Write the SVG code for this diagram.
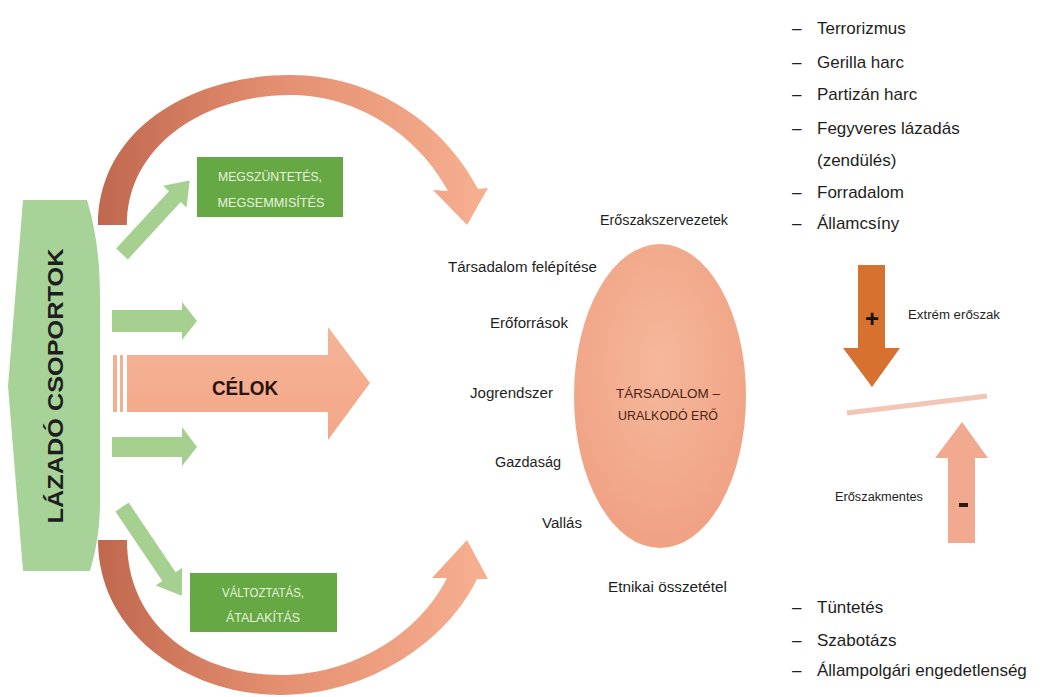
<svg xmlns="http://www.w3.org/2000/svg" width="1048" height="697" viewBox="0 0 1048 697">
<style>
.t{font-family:"Liberation Sans",Arial,sans-serif;fill:#1e1e1e}
.lbl{font-size:14px}
.lst{font-size:17px}
.sm{font-size:12px}
.box{fill:#66a844}
.boxt{font-family:"Liberation Sans",Arial,sans-serif;font-size:13px;fill:#e6f3de;text-anchor:middle}
.ga{fill:#a5d08f}
</style>
<defs>
<linearGradient id="arcg" gradientUnits="userSpaceOnUse" x1="98" y1="0" x2="488" y2="0">
<stop offset="0" stop-color="#c0684e"/>
<stop offset="0.45" stop-color="#e48e70"/>
<stop offset="1" stop-color="#f6b090"/>
</linearGradient>
<radialGradient id="ellg" cx="0.5" cy="0.4" r="0.6">
<stop offset="0" stop-color="#f6b89c"/>
<stop offset="1" stop-color="#f0a283"/>
</radialGradient>
<linearGradient id="celg" x1="0" y1="0" x2="0" y2="1">
<stop offset="0" stop-color="#f5b497"/>
<stop offset="1" stop-color="#f3a787"/>
</linearGradient>
</defs>
<rect width="1048" height="697" fill="#ffffff"/>

<g id="connectors">
<path id="arc-top" fill="url(#arcg)" d="M98,225 C98,130 190,75 290,75 C375,75 445,125 478,189 L488,188 L467,225 L433,190 L448,191 C420,138 360,95 290,95 C205,95 127,145 127,225 Z"/>
<path id="arc-bottom" fill="url(#arcg)" d="M98,540 C98,635 190,695 280,695 C370,695 448,640 477,579 L488,579 L467,540 L432,578 L447,578 C420,632 355,675 280,675 C200,675 127,628 127,540 Z"/>
<polygon id="arrow-diag-up" class="ga" transform="translate(122,254) rotate(-47.4)" points="0,-8 78,-8 78,-16 100,0 78,16 78,8 0,8"/>
<polygon id="arrow-h1" class="ga" points="112,310 182,310 182,302 197,321 182,340 182,332 112,332"/>
<polygon id="arrow-h2" class="ga" points="112,437 182,437 182,427 197,447 182,466 182,457 112,457"/>
<polygon id="arrow-diag-down" class="ga" transform="translate(122,507) rotate(56)" points="0,-8 84,-8 84,-16 107,0 84,16 84,8 0,8"/>
</g>

<g id="lazado">
<path fill="#a8d398" d="M23,200 L87,200 C96,230 100,260 100,300 L100,500 C100,530 96,550 90,571 L23,571 L8,386 Z"/>
<text class="t" transform="translate(63,386) rotate(-90)" text-anchor="middle" font-size="22" font-weight="bold" textLength="275" lengthAdjust="spacingAndGlyphs">LÁZADÓ CSOPORTOK</text>
</g>

<g id="celok">
<rect x="113" y="355" width="4" height="57" fill="#f4ae90"/>
<rect x="120" y="355" width="3" height="57" fill="#f4ae90"/>
<polygon fill="url(#celg)" points="127,355 328,355 328,327 370,383 328,440 328,412 127,412"/>
<text class="t" x="245" y="395" text-anchor="middle" font-size="21" font-weight="bold" style="fill:#2a1410" textLength="66" lengthAdjust="spacingAndGlyphs">CÉLOK</text>
</g>

<g id="box-megszuntetes">
<rect class="box" x="197" y="157" width="146" height="60"/>
<text class="boxt" x="270" y="181" textLength="104" lengthAdjust="spacingAndGlyphs">MEGSZÜNTETÉS,</text>
<text class="boxt" x="271" y="207" textLength="107" lengthAdjust="spacingAndGlyphs">MEGSEMMISÍTÉS</text>
</g>

<g id="box-valtoztatas">
<rect class="box" x="190" y="573" width="147" height="59"/>
<text class="boxt" x="263" y="597" textLength="82" lengthAdjust="spacingAndGlyphs">VÁLTOZTATÁS,</text>
<text class="boxt" x="263" y="622" textLength="74" lengthAdjust="spacingAndGlyphs">ÁTALAKÍTÁS</text>
</g>

<g id="tarsadalom">
<ellipse cx="660" cy="396" rx="86" ry="152" fill="url(#ellg)"/>
<text class="t" x="668" y="398" text-anchor="middle" font-size="13" style="fill:#4a2414" textLength="104" lengthAdjust="spacingAndGlyphs">TÁRSADALOM –</text>
<text class="t" x="668" y="420" text-anchor="middle" font-size="13" style="fill:#4a2414" textLength="100" lengthAdjust="spacingAndGlyphs">URALKODÓ ERŐ</text>
</g>

<g id="labels">
<text class="t lbl" x="600" y="225" textLength="128" lengthAdjust="spacingAndGlyphs">Erőszakszervezetek</text>
<text class="t lbl" x="448" y="272" textLength="149" lengthAdjust="spacingAndGlyphs">Társadalom felépítése</text>
<text class="t lbl" x="490" y="328" textLength="78" lengthAdjust="spacingAndGlyphs">Erőforrások</text>
<text class="t lbl" x="470" y="398" textLength="83" lengthAdjust="spacingAndGlyphs">Jogrendszer</text>
<text class="t lbl" x="495" y="467" textLength="66" lengthAdjust="spacingAndGlyphs">Gazdaság</text>
<text class="t lbl" x="542" y="528" textLength="40" lengthAdjust="spacingAndGlyphs">Vallás</text>
<text class="t lbl" x="608" y="592" textLength="119" lengthAdjust="spacingAndGlyphs">Etnikai összetétel</text>
</g>

<g id="list-violent">
<text class="t lst" x="792" y="34">–</text><text class="t lst" x="817" y="34">Terrorizmus</text>
<text class="t lst" x="792" y="68">–</text><text class="t lst" x="817" y="68">Gerilla harc</text>
<text class="t lst" x="792" y="100">–</text><text class="t lst" x="817" y="100">Partizán harc</text>
<text class="t lst" x="792" y="134">–</text><text class="t lst" x="817" y="134">Fegyveres lázadás</text>
<text class="t lst" x="817" y="166">(zendülés)</text>
<text class="t lst" x="792" y="198">–</text><text class="t lst" x="817" y="198">Forradalom</text>
<text class="t lst" x="792" y="229">–</text><text class="t lst" x="817" y="229">Államcsíny</text>
</g>

<g id="extreme">
<polygon fill="#d6712f" points="858,265 885,265 885,348 900,348 872,387 843,348 858,348"/>
<text class="t" x="872" y="327" text-anchor="middle" font-size="24" font-weight="bold" style="fill:#111">+</text>
<text class="t sm" x="908" y="319" textLength="92" lengthAdjust="spacingAndGlyphs">Extrém erőszak</text>
</g>

<line id="balance" x1="847" y1="413" x2="987" y2="396" stroke="#f2c5b6" stroke-width="5"/>

<g id="nonviolent">
<polygon fill="#f1aa90" points="962,422 988,458 975,458 975,543 948,543 948,458 935,458"/>
<rect x="959" y="503" width="9" height="4" fill="#2a1a14"/>
<text class="t sm" x="835" y="501" textLength="88" lengthAdjust="spacingAndGlyphs">Erőszakmentes</text>
</g>

<g id="list-nonviolent">
<text class="t lst" x="792" y="613">–</text><text class="t lst" x="817" y="613">Tüntetés</text>
<text class="t lst" x="792" y="646">–</text><text class="t lst" x="817" y="646">Szabotázs</text>
<text class="t lst" x="792" y="676">–</text><text class="t lst" x="817" y="676">Állampolgári engedetlenség</text>
</g>
</svg>
